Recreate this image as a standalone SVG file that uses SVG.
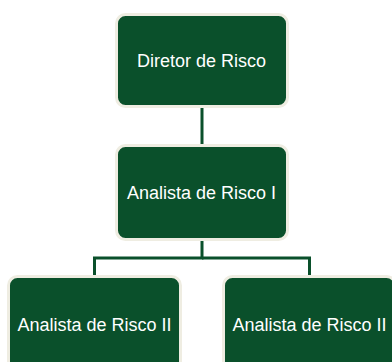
<svg xmlns="http://www.w3.org/2000/svg" width="392" height="362" viewBox="0 0 392 362">
<style>
.box{fill:#0a502b;stroke:#efede2;stroke-width:3}
.lbl{fill:#ffffff;font-family:"Liberation Sans",Arial,sans-serif;font-size:18px;text-anchor:middle}
.conn{stroke:#0a502b;stroke-width:3;fill:none}
</style>
<rect width="392" height="362" fill="#ffffff"/>
<g id="connectors">
<line class="conn" x1="202" y1="107" x2="202" y2="145"/>
<polyline class="conn" points="202,240 202,258 94.5,258 94.5,276"/>
<polyline class="conn" points="202,258 309.5,258 309.5,276"/>
</g>
<g id="n1">
<rect class="box" x="116.5" y="14.5" width="171" height="92" rx="9"/>
<text class="lbl" x="201.5" y="67">Diretor de Risco</text>
</g>
<g id="n2">
<rect class="box" x="116.5" y="145.5" width="171" height="94" rx="9"/>
<text class="lbl" x="201.5" y="199">Analista de Risco I</text>
</g>
<g id="n3">
<rect class="box" x="8.5" y="276.5" width="172" height="96" rx="9"/>
<text class="lbl" x="94.5" y="330.5">Analista de Risco II</text>
</g>
<g id="n4">
<rect class="box" x="223.5" y="276.5" width="172" height="96" rx="9"/>
<text class="lbl" x="309.5" y="330.5">Analista de Risco II</text>
</g>
</svg>
